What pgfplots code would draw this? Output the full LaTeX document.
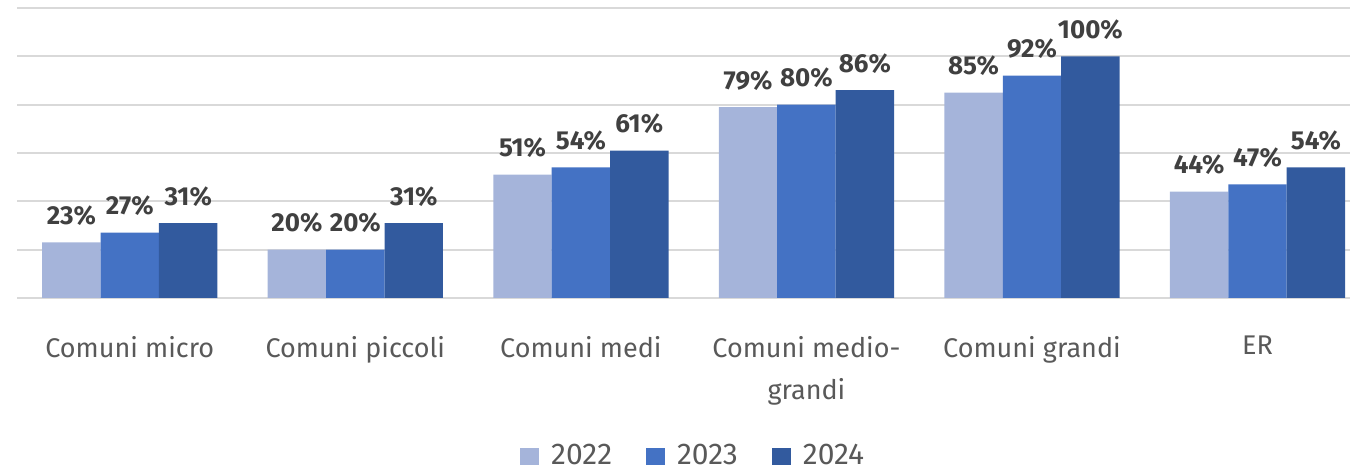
\documentclass[border=0pt]{standalone}
\usepackage{pgfplots}
\pgfplotsset{compat=1.18}
\usepackage{fontspec}
\setmainfont{Fira Sans}
\definecolor{cA}{HTML}{A5B4DA}
\definecolor{cB}{HTML}{4472C4}
\definecolor{cC}{HTML}{325A9E}
\definecolor{gridc}{HTML}{D9D9D9}
\definecolor{lab}{HTML}{404040}
\definecolor{tick}{HTML}{595959}
\begin{document}
\begin{tikzpicture}
\begin{axis}[
  at={(8.5bp,86.5bp)}, anchor=south west,
  scale only axis, width=666.5bp, height=145bp,
  ybar=0pt, bar width=0.259,
  xmin=-0.5, xmax=5.41, ymin=0, ymax=120,
  xtick={0,1,2,3,4,5},
  xticklabels={Comuni micro,Comuni piccoli,Comuni medi,{Comuni medio-\\grandi},Comuni grandi,ER},
  xticklabel style={align=center, font=\fontsize{13.5bp}{21bp}\selectfont, text=tick, yshift=-15.5bp},
  major tick length=0pt,
  ytick={0,20,40,60,80,100,120}, yticklabels={},
  ymajorgrids, grid style={gridc, line width=1bp},
  axis line style={draw=none},
  nodes near coords={\pgfmathprintnumber[assume math mode=true]{\pgfplotspointmeta}\%},
  every node near coord/.append style={font=\bfseries\fontsize{13bp}{15bp}\selectfont, text=lab, yshift=5bp},
  legend style={at={(0.508,-0.545)}, anchor=center, draw=none, legend columns=3,
    font=\fontsize{15bp}{17bp}\selectfont, text=tick, inner sep=0pt,
    /tikz/every odd column/.append style={column sep=4bp},
    /tikz/every even column/.append style={column sep=15bp}},
  legend image code/.code={\fill[#1] (0bp,-4.6bp) rectangle (9.5bp,4bp);},
]
\addplot[fill=cA, draw=none] coordinates {(0,23) (1,20) (2,51) (3,79) (4,85) (5,44)};
\addplot[fill=cB, draw=none] coordinates {(0,27) (1,20) (2,54) (3,80) (4,92) (5,47)};
\addplot[fill=cC, draw=none] coordinates {(0,31) (1,31) (2,61) (3,86) (4,100) (5,54)};
\legend{2022,2023,2024}
\end{axis}
\pgfresetboundingbox
\path[use as bounding box] (0,0) rectangle (676bp,235.5bp);
\end{tikzpicture}
\end{document}
